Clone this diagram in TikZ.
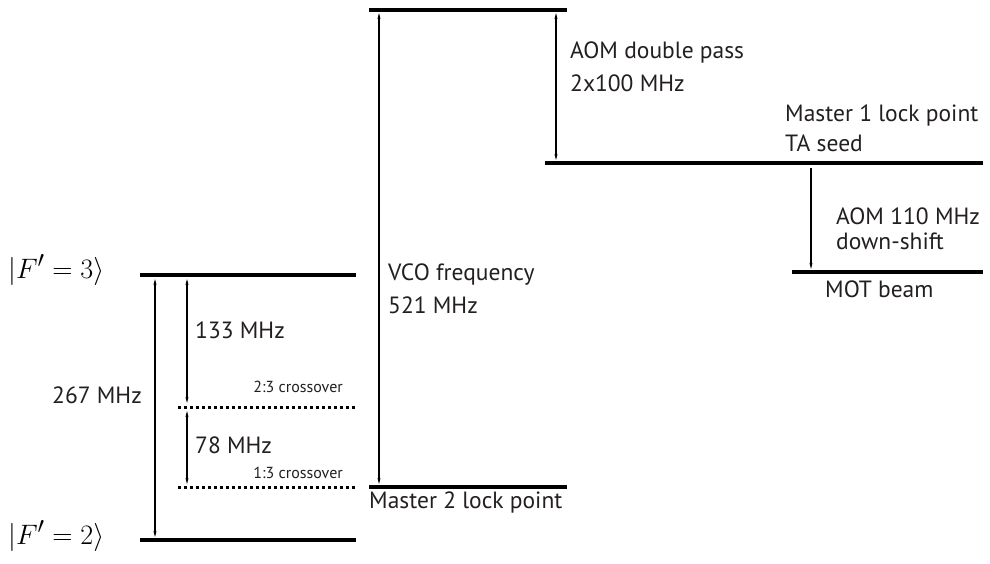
\documentclass[tikz,border=0pt]{standalone}
\usepackage{graphicx}
\usepackage{fontspec}
\setsansfont{PT Sans}
\usetikzlibrary{arrows.meta}
\definecolor{txt}{HTML}{231F20}
\newcommand{\ketlab}[1]{\scalebox{1.13}{\fontsize{24.88}{28}\selectfont$#1$}}
\begin{document}
\begin{tikzpicture}[x=1pt,y=-1pt,
  level/.style={line width=3.5pt},
  xover/.style={line width=3pt, dash pattern=on 3pt off 3pt},
  arr/.style={line width=1.2pt, {Stealth[length=6pt,width=3pt]}-{Stealth[length=6pt,width=3pt]}},
  darr/.style={line width=1.2pt, -{Stealth[length=6pt,width=3pt]}},
  lab/.style={font=\sffamily\fontsize{23.5}{28}\selectfont, text=txt, inner sep=0pt, anchor=west},
  small/.style={font=\sffamily\fontsize{16}{19}\selectfont, text=txt, inner sep=0pt, anchor=east},
  ket/.style={inner sep=0pt, anchor=west}]
\useasboundingbox (0,0) rectangle (990,563);
% levels
\coordinate (f3l) at (140,275); \coordinate (f3r) at (356,275);
\coordinate (f2l) at (140,540); \coordinate (f2r) at (356,540);
\coordinate (c23l) at (178,407); \coordinate (c23r) at (356,407);
\coordinate (c13l) at (178,487); \coordinate (c13r) at (356,487);
\coordinate (m2l) at (369,487); \coordinate (m2r) at (567,487);
\coordinate (topl) at (369,10); \coordinate (topr) at (567,10);
\coordinate (m1l) at (545,163); \coordinate (m1r) at (983,163);
\coordinate (motl) at (792,272); \coordinate (motr) at (983,272);
\draw[level] (f3l) -- (f3r);
\draw[level] (f2l) -- (f2r);
\draw[xover] (c23l) -- (c23r);
\draw[xover] (c13l) -- (c13r);
\draw[level] (m2l) -- (m2r);
\draw[level] (topl) -- (topr);
\draw[level] (m1l) -- (m1r);
\draw[level] (motl) -- (motr);
% arrow end points
\coordinate (a267t) at (155,279); \coordinate (a267b) at (155,537);
\coordinate (a133t) at (187,279); \coordinate (a133b) at (187,403);
\coordinate (a78t) at (187,411); \coordinate (a78b) at (187,484);
\coordinate (vcot) at (379,13); \coordinate (vcob) at (379,484);
\coordinate (aomt) at (556,13); \coordinate (aomb) at (556,160);
\coordinate (aom2t) at (811,168); \coordinate (aom2b) at (811,269);
\draw[arr] (a267t) -- (a267b);
\draw[arr] (a133t) -- (a133b);
\draw[arr] (a78t) -- (a78b);
\draw[arr] (vcot) -- (vcob);
\draw[arr] (aomt) -- (aomb);
\draw[darr] (aom2t) -- (aom2b);
% labels
\node[ket] (k3) at (8,270) {\ketlab{|F'=3\rangle}};
\node[ket] (k2) at (8,536) {\ketlab{|F'=2\rangle}};
\node[lab] (l267) at (52,395) {267 MHz};
\node[lab] (l133) at (195,330) {133 MHz};
\node[lab] (l78) at (195,445) {78 MHz};
\node[small] (s23) at (343,387) {2:3 crossover};
\node[small] (s13) at (343,473) {1:3 crossover};
\node[lab] (vco1) at (388,275) {VCO frequency};
\node[lab] (vco2) at (388,305) {521 MHz};
\node[lab] (aom1) at (570,52) {AOM double pass};
\node[lab] (aom2) at (570,83) {2x100 MHz};
\node[lab] (m1a) at (785,115) {Master 1 lock point};
\node[lab] (m1b) at (785,143) {TA seed};
\node[lab] (ds1) at (836,216) {AOM 110 MHz};
\node[lab] (ds2) at (836,241) {down-shift};
\node[lab] (mot) at (825,289) {MOT beam};
\node[lab] (m2) at (369,502) {Master 2 lock point};
\end{tikzpicture}
\end{document}
